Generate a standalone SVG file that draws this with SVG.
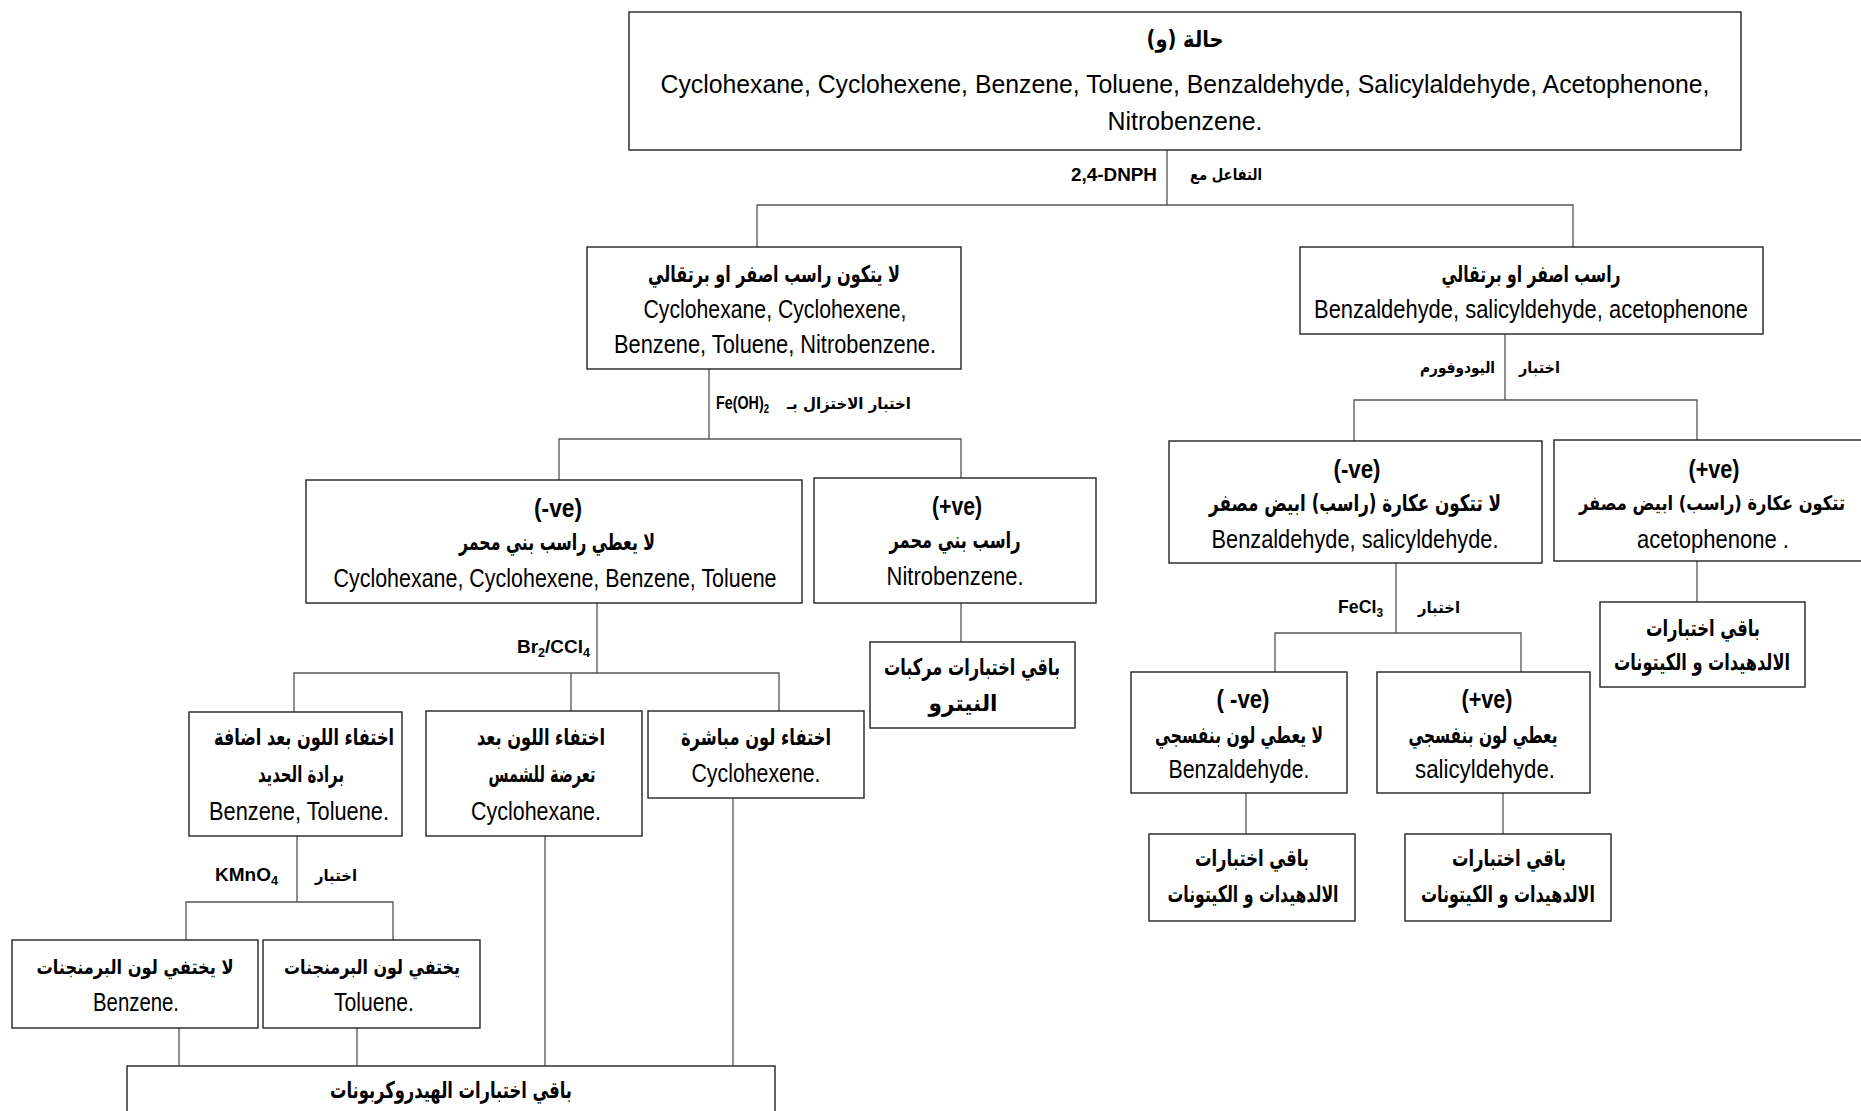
<svg xmlns="http://www.w3.org/2000/svg" width="1861" height="1111" viewBox="0 0 1861 1111">
  <style>
    .bx { fill: #ffffff; stroke: #222222; stroke-width: 1.4; }
    .ln { fill: none; stroke: #555555; stroke-width: 1.3; }
    .en { font-family: "Liberation Sans", Arial, sans-serif; font-size: 25px; fill: #000; text-anchor: middle; }
    .hd { font-family: "Liberation Sans", Arial, sans-serif; font-size: 25px; font-weight: bold; fill: #000; text-anchor: middle; }
    .ar { font-family: "DejaVu Sans", sans-serif; font-size: 23px; font-weight: bold; fill: #000; text-anchor: middle; direction: rtl; unicode-bidi: embed; }
    .sm { font-size: 20px; }
    .lb { font-family: "Liberation Sans", Arial, sans-serif; font-size: 18px; font-weight: bold; fill: #000; }
    .la { font-family: "DejaVu Sans", sans-serif; font-size: 16px; font-weight: bold; fill: #000; }
    .sub { font-size: 12px; }
  </style>
  <rect width="1861" height="1111" fill="#ffffff"/>

  <!-- connectors and test labels -->
  <g id="connectors">
    <path class="ln" d="M1167,150 V205 M757,247 V205 H1573 V247"/>
    <path class="ln" d="M709,369 V439 M559,480 V439 H961 V478"/>
    <path class="ln" d="M597,603 V673 M294,712 V673 H779 V711 M571,673 V711"/>
    <path class="ln" d="M961,603 V642"/>
    <path class="ln" d="M297,836 V902 M186,940 V902 H393 V940"/>
    <path class="ln" d="M179,1028 V1066 M357,1028 V1066 M545,836 V1066 M733,798 V1066"/>
    <path class="ln" d="M1505,334 V400 M1354,441 V400 H1697 V440"/>
    <path class="ln" d="M1396,563 V633 M1275,672 V633 H1521 V672"/>
    <path class="ln" d="M1697,561 V602"/>
    <path class="ln" d="M1246,793 V834"/>
    <path class="ln" d="M1503,793 V834"/>

    <text class="lb" x="1157" y="181" text-anchor="end" textLength="86" lengthAdjust="spacingAndGlyphs">2,4-DNPH</text>
    <text class="la" x="1190" y="180" textLength="72" lengthAdjust="spacingAndGlyphs">التفاعل مع</text>

    <text class="lb" x="716" y="409" textLength="53" lengthAdjust="spacingAndGlyphs">Fe(OH)<tspan class="sub" dy="4">2</tspan></text>
    <text class="la" x="911" y="409" text-anchor="end" font-size="14" textLength="124" lengthAdjust="spacingAndGlyphs">اختبار الاختزال بـ</text>

    <text class="lb" x="517" y="653" textLength="73" lengthAdjust="spacingAndGlyphs">Br<tspan class="sub" dy="4">2</tspan><tspan dy="-4">/CCl</tspan><tspan class="sub" dy="4">4</tspan></text>

    <text class="lb" x="215" y="881" textLength="63" lengthAdjust="spacingAndGlyphs">KMnO<tspan class="sub" dy="4">4</tspan></text>
    <text class="la" x="315" y="881" textLength="42" lengthAdjust="spacingAndGlyphs">اختبار</text>

    <text class="la" x="1495" y="373" text-anchor="end" textLength="75" lengthAdjust="spacingAndGlyphs">اليودوفورم</text>
    <text class="la" x="1519" y="373" textLength="41" lengthAdjust="spacingAndGlyphs">اختبار</text>

    <text class="lb" x="1338" y="613" textLength="45" lengthAdjust="spacingAndGlyphs">FeCl<tspan class="sub" dy="4">3</tspan></text>
    <text class="la" x="1418" y="613" textLength="42" lengthAdjust="spacingAndGlyphs">اختبار</text>
  </g>

  <!-- starting mixture -->
  <g id="case-w">
    <rect class="bx" x="629" y="12" width="1112" height="138"/>
    <text class="ar" x="1185" y="47" textLength="77" lengthAdjust="spacingAndGlyphs">حالة (و)</text>
    <text class="en" x="1185" y="93" textLength="1049" lengthAdjust="spacingAndGlyphs">Cyclohexane, Cyclohexene, Benzene, Toluene, Benzaldehyde, Salicylaldehyde, Acetophenone,</text>
    <text class="en" x="1185" y="130" textLength="155" lengthAdjust="spacingAndGlyphs">Nitrobenzene.</text>
  </g>

  <!-- 2,4-DNPH negative -->
  <g id="dnph-neg">
    <rect class="bx" x="587" y="247" width="374" height="122"/>
    <text class="ar" x="774" y="282" textLength="252" lengthAdjust="spacingAndGlyphs">لا يتكون راسب اصفر او برتقالي</text>
    <text class="en" x="775" y="318" textLength="263" lengthAdjust="spacingAndGlyphs">Cyclohexane, Cyclohexene,</text>
    <text class="en" x="775" y="353" textLength="322" lengthAdjust="spacingAndGlyphs">Benzene, Toluene, Nitrobenzene.</text>
  </g>

  <!-- 2,4-DNPH positive -->
  <g id="dnph-pos">
    <rect class="bx" x="1300" y="247" width="463" height="87"/>
    <text class="ar" x="1531" y="282" textLength="179" lengthAdjust="spacingAndGlyphs">راسب اصفر او برتقالي</text>
    <text class="en" x="1531" y="318" textLength="434" lengthAdjust="spacingAndGlyphs">Benzaldehyde, salicyldehyde, acetophenone</text>
  </g>

  <!-- Fe(OH)2 negative -->
  <g id="feoh-neg">
    <rect class="bx" x="306" y="480" width="496" height="123"/>
    <text class="hd" x="558" y="517" textLength="48" lengthAdjust="spacingAndGlyphs">(-ve)</text>
    <text class="ar" x="557" y="550" textLength="196" lengthAdjust="spacingAndGlyphs">لا يعطي راسب بني محمر</text>
    <text class="en" x="555" y="587" textLength="443" lengthAdjust="spacingAndGlyphs">Cyclohexane, Cyclohexene, Benzene, Toluene</text>
  </g>

  <!-- Fe(OH)2 positive -->
  <g id="feoh-pos">
    <rect class="bx" x="814" y="478" width="282" height="125"/>
    <text class="hd" x="957" y="515" textLength="50" lengthAdjust="spacingAndGlyphs">(+ve)</text>
    <text class="ar" x="955" y="548" textLength="131" lengthAdjust="spacingAndGlyphs">راسب بني محمر</text>
    <text class="en" x="955" y="585" textLength="137" lengthAdjust="spacingAndGlyphs">Nitrobenzene.</text>
  </g>

  <!-- rest of nitro tests -->
  <g id="nitro-rest">
    <rect class="bx" x="870" y="642" width="205" height="86"/>
    <text class="ar" x="972" y="675" textLength="176" lengthAdjust="spacingAndGlyphs">باقي اختبارات مركبات</text>
    <text class="ar" x="963" y="711" textLength="69" lengthAdjust="spacingAndGlyphs">النيترو</text>
  </g>

  <!-- Br2/CCl4 results -->
  <g id="br-iron">
    <rect class="bx" x="189" y="712" width="213" height="124"/>
    <text class="ar" x="304" y="745" textLength="180" lengthAdjust="spacingAndGlyphs">اختفاء اللون بعد اضافة</text>
    <text class="ar" x="301" y="782" textLength="86" lengthAdjust="spacingAndGlyphs">برادة الحديد</text>
    <text class="en" x="299" y="820" textLength="180" lengthAdjust="spacingAndGlyphs">Benzene, Toluene.</text>
  </g>

  <g id="br-sun">
    <rect class="bx" x="426" y="711" width="216" height="125"/>
    <text class="ar" x="541" y="745" textLength="128" lengthAdjust="spacingAndGlyphs">اختفاء اللون بعد</text>
    <text class="ar" x="542" y="782" textLength="107" lengthAdjust="spacingAndGlyphs">تعرضة للشمس</text>
    <text class="en" x="536" y="820" textLength="130" lengthAdjust="spacingAndGlyphs">Cyclohexane.</text>
  </g>

  <g id="br-direct">
    <rect class="bx" x="648" y="711" width="216" height="87"/>
    <text class="ar" x="756" y="745" textLength="150" lengthAdjust="spacingAndGlyphs">اختفاء لون مباشرة</text>
    <text class="en" x="756" y="782" textLength="129" lengthAdjust="spacingAndGlyphs">Cyclohexene.</text>
  </g>

  <!-- KMnO4 results -->
  <g id="kmno4-neg">
    <rect class="bx" x="12" y="940" width="246" height="88"/>
    <text class="ar sm" x="135" y="974" textLength="197" lengthAdjust="spacingAndGlyphs">لا يختفي لون البرمنجنات</text>
    <text class="en" x="136" y="1011" textLength="86" lengthAdjust="spacingAndGlyphs">Benzene.</text>
  </g>

  <g id="kmno4-pos">
    <rect class="bx" x="263" y="940" width="217" height="88"/>
    <text class="ar sm" x="372" y="974" textLength="176" lengthAdjust="spacingAndGlyphs">يختفي لون البرمنجنات</text>
    <text class="en" x="374" y="1011" textLength="80" lengthAdjust="spacingAndGlyphs">Toluene.</text>
  </g>

  <!-- rest of hydrocarbon tests -->
  <g id="hydrocarbon-rest">
    <rect class="bx" x="127" y="1066" width="648" height="80"/>
    <text class="ar" x="451" y="1098" textLength="242" lengthAdjust="spacingAndGlyphs">باقي اختبارات الهيدروكربونات</text>
  </g>

  <!-- iodoform results -->
  <g id="iodoform-neg">
    <rect class="bx" x="1169" y="441" width="373" height="122"/>
    <text class="hd" x="1357" y="478" textLength="47" lengthAdjust="spacingAndGlyphs">(-ve)</text>
    <text class="ar" x="1355" y="511" textLength="292" lengthAdjust="spacingAndGlyphs">لا تتكون عكارة (راسب) ابيض مصفر</text>
    <text class="en" x="1355" y="548" textLength="287" lengthAdjust="spacingAndGlyphs">Benzaldehyde, salicyldehyde.</text>
  </g>

  <g id="iodoform-pos">
    <rect class="bx" x="1554" y="440" width="330" height="121"/>
    <text class="hd" x="1714" y="478" textLength="51" lengthAdjust="spacingAndGlyphs">(+ve)</text>
    <text class="ar sm" x="1712" y="510" textLength="266" lengthAdjust="spacingAndGlyphs">تتكون عكارة (راسب) ابيض مصفر</text>
    <text class="en" x="1713" y="548" textLength="152" lengthAdjust="spacingAndGlyphs">acetophenone .</text>
  </g>

  <g id="ketone-rest">
    <rect class="bx" x="1600" y="602" width="205" height="85"/>
    <text class="ar" x="1703" y="636" textLength="114" lengthAdjust="spacingAndGlyphs">باقي اختبارات</text>
    <text class="ar" x="1702" y="670" textLength="176" lengthAdjust="spacingAndGlyphs">الالدهيدات و الكيتونات</text>
  </g>

  <!-- FeCl3 results -->
  <g id="fecl3-neg">
    <rect class="bx" x="1131" y="672" width="216" height="121"/>
    <text class="hd" x="1243" y="708" textLength="53" lengthAdjust="spacingAndGlyphs">( -ve)</text>
    <text class="ar" x="1239" y="743" textLength="168" lengthAdjust="spacingAndGlyphs">لا يعطي لون بنفسجي</text>
    <text class="en" x="1239" y="778" textLength="141" lengthAdjust="spacingAndGlyphs">Benzaldehyde.</text>
  </g>

  <g id="fecl3-pos">
    <rect class="bx" x="1377" y="672" width="213" height="121"/>
    <text class="hd" x="1487" y="708" textLength="51" lengthAdjust="spacingAndGlyphs">(+ve)</text>
    <text class="ar" x="1483" y="743" textLength="149" lengthAdjust="spacingAndGlyphs">يعطي لون بنفسجي</text>
    <text class="en" x="1485" y="778" textLength="140" lengthAdjust="spacingAndGlyphs">salicyldehyde.</text>
  </g>

  <g id="aldehyde-rest-a">
    <rect class="bx" x="1149" y="834" width="206" height="87"/>
    <text class="ar" x="1252" y="866" textLength="114" lengthAdjust="spacingAndGlyphs">باقي اختبارات</text>
    <text class="ar" x="1253" y="902" textLength="171" lengthAdjust="spacingAndGlyphs">الالدهيدات و الكيتونات</text>
  </g>

  <g id="aldehyde-rest-b">
    <rect class="bx" x="1405" y="834" width="206" height="87"/>
    <text class="ar" x="1509" y="866" textLength="114" lengthAdjust="spacingAndGlyphs">باقي اختبارات</text>
    <text class="ar" x="1508" y="902" textLength="174" lengthAdjust="spacingAndGlyphs">الالدهيدات و الكيتونات</text>
  </g>
</svg>
